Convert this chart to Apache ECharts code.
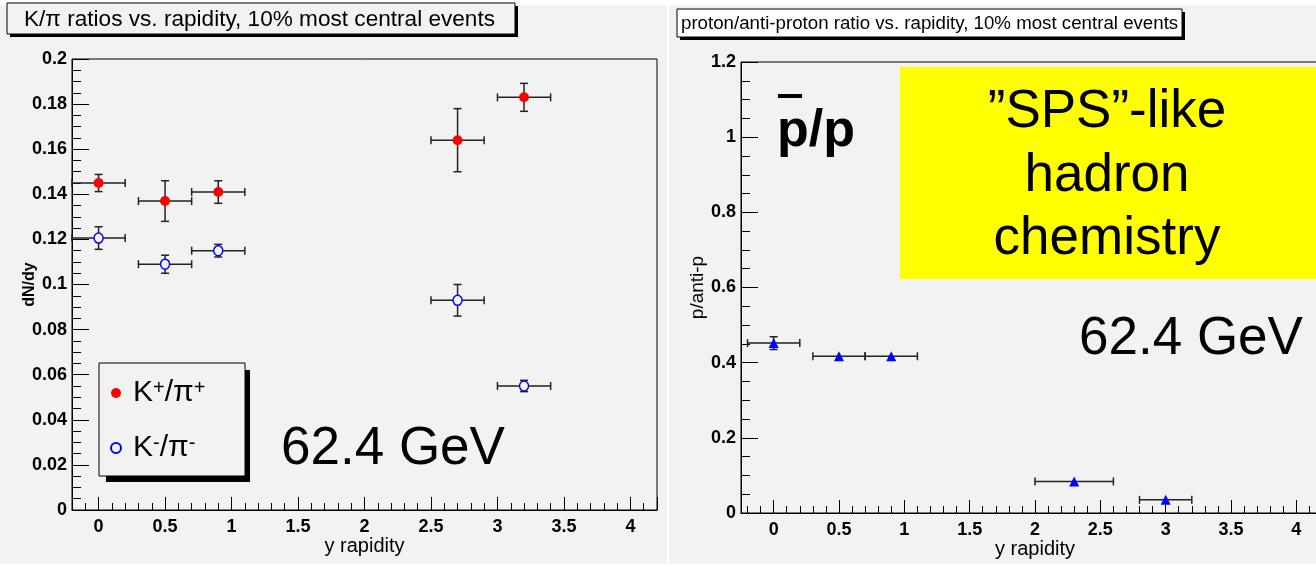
<!DOCTYPE html>
<html><head><meta charset="utf-8">
<script src="https://cdn.jsdelivr.net/npm/echarts@6/dist/echarts.min.js"></script>
<style>
html,body{margin:0;padding:0;background:#fff;}
#wrap{position:relative;width:1316px;height:567px;overflow:hidden;}
.panel{position:absolute;background:#f2f2f2;}
#c{position:absolute;left:0;top:0;width:1316px;height:567px;}
</style>
</head><body>
<div id="wrap">
<div class="panel" style="left:0;top:5px;width:667px;height:559px;"></div>
<div class="panel" style="left:669px;top:5px;width:647px;height:559px;"></div>
<div id="c"></div>
</div>
<script>
// ---- Left panel: K/pi ratios ----
const kpX      = [0, 0.5, 0.9, 2.7, 3.2];
const kpXErr   = [0.2, 0.2, 0.2, 0.2, 0.2];
const kPlusY   = [0.145, 0.137, 0.141, 0.164, 0.183];
const kPlusErr = [0.0038, 0.009, 0.005, 0.014, 0.0062];
const kMinusY  = [0.1206, 0.109, 0.115, 0.093, 0.055];
const kMinusErr= [0.005, 0.004, 0.0028, 0.007, 0.0025];
// ---- Right panel: pbar/p ratio ----
const ppX      = [0, 0.5, 0.9, 2.3, 3.0];
const ppXErr   = [0.2, 0.2, 0.2, 0.3, 0.2];
const ppY      = [0.452, 0.417, 0.417, 0.084, 0.035];
const ppYErr   = [0.017, 0, 0, 0, 0];
// ---- Texts ----
const leftTitle  = 'K/π ratios vs. rapidity, 10% most central events';
const rightTitle = 'proton/anti-proton ratio vs. rapidity, 10% most central events';
const legendNames = ['K+/π+', 'K-/π-'];
const energyLabel = '62.4 GeV';
const yellowLines = ['”SPS”-like', 'hadron', 'chemistry'];

const FONT = 'Liberation Sans, Arial, sans-serif';

function zip4(x, y, xe, ye) { return x.map((v, i) => [v, y[i], xe[i], ye[i]]); }
function zip2(x, y) { return x.map((v, i) => [v, y[i]]); }

function errRender(params, api) {
  const x = api.value(0), y = api.value(1), xe = api.value(2), ye = api.value(3);
  const st = { stroke: '#222', lineWidth: 1.5 };
  const cap = 4;
  const ch = [];
  if (xe > 0) {
    const L = api.coord([x - xe, y]), R = api.coord([x + xe, y]);
    ch.push({ type: 'line', shape: { x1: L[0], y1: L[1], x2: R[0], y2: R[1] }, style: st });
    ch.push({ type: 'line', shape: { x1: L[0], y1: L[1] - cap, x2: L[0], y2: L[1] + cap }, style: st });
    ch.push({ type: 'line', shape: { x1: R[0], y1: R[1] - cap, x2: R[0], y2: R[1] + cap }, style: st });
  }
  if (ye > 0) {
    const T = api.coord([x, y + ye]), B = api.coord([x, y - ye]);
    ch.push({ type: 'line', shape: { x1: T[0], y1: T[1], x2: B[0], y2: B[1] }, style: st });
    ch.push({ type: 'line', shape: { x1: T[0] - cap, y1: T[1], x2: T[0] + cap, y2: T[1] }, style: st });
    ch.push({ type: 'line', shape: { x1: B[0] - cap, y1: B[1], x2: B[0] + cap, y2: B[1] }, style: st });
  }
  return { type: 'group', children: ch };
}

function halfFmt(v) {
  const r = Math.round(v * 2);
  if (Math.abs(v * 2 - r) > 1e-6) return '';
  return String(+v.toFixed(2));
}

const labelStyle = { fontFamily: FONT, fontSize: 18, fontWeight: 'bold', color: '#000' };
const axLine = { show: true, onZero: false, lineStyle: { color: '#000', width: 1 } };

function majorX(grid, min, max) {
  return {
    type: 'value', gridIndex: grid, min: min, max: max, minInterval: 0.5, maxInterval: 0.5, splitNumber: 9,
    position: 'bottom',
    axisLine: axLine, splitLine: { show: false },
    axisTick: { show: true, inside: true, length: 13, lineStyle: { color: '#000', width: 1 } },
    axisLabel: Object.assign({ margin: 8, formatter: halfFmt, showMinLabel: true, showMaxLabel: true }, labelStyle),
    name: 'y rapidity', nameLocation: 'middle', nameGap: 26, nameMoveOverlap: false,
    nameTextStyle: { fontFamily: FONT, fontSize: 20, color: '#000' }
  };
}
function minorX(grid, min, max) {
  return {
    type: 'value', gridIndex: grid, min: min, max: max, minInterval: 0.1, maxInterval: 0.1, splitNumber: 44,
    position: 'bottom',
    axisLine: { show: false, onZero: false }, splitLine: { show: false }, axisLabel: { show: false },
    axisTick: { show: true, inside: true, length: 7, lineStyle: { color: '#000', width: 1 } }
  };
}
function yAx(grid, max, interval, name, nameGap, nameBold, nameSize) {
  return {
    type: 'value', gridIndex: grid, min: 0, max: max, interval: interval,
    axisLine: axLine, splitLine: { show: false },
    axisTick: { show: true, inside: true, length: 17, lineStyle: { color: '#000', width: 1 } },
    minorTick: { show: true, splitNumber: 4, length: 9, lineStyle: { color: '#000', width: 1 } },
    minorSplitLine: { show: false },
    axisLabel: Object.assign({ margin: 5 }, labelStyle),
    name: name, nameLocation: 'middle', nameGap: nameGap, nameMoveOverlap: false,
    nameTextStyle: { fontFamily: FONT, fontSize: nameSize, fontWeight: nameBold ? 'bold' : 'normal', color: '#000' }
  };
}

const chart = echarts.init(document.getElementById('c'), null, { renderer: 'canvas' });
chart.setOption({
  animation: false,
  backgroundColor: 'transparent',
  title: [
    { text: leftTitle, left: 24, top: 8, padding: 0,
      textStyle: { fontFamily: FONT, fontSize: 22.6, fontWeight: 'normal', color: '#000' } },
    { text: rightTitle, left: 681, top: 14, padding: 0,
      textStyle: { fontFamily: FONT, fontSize: 18.7, fontWeight: 'normal', color: '#000' } }
  ],
  grid: [
    { left: 72, top: 59, width: 585, height: 451, show: true, borderColor: '#000', borderWidth: 1,
      backgroundColor: 'transparent', outerBoundsMode: 'none', containLabel: false },
    { left: 741, top: 62, width: 588, height: 451, show: true, borderColor: '#000', borderWidth: 1,
      backgroundColor: 'transparent', outerBoundsMode: 'none', containLabel: false }
  ],
  xAxis: [ majorX(0, -0.2, 4.2), minorX(0, -0.2, 4.2), majorX(1, -0.25, 4.25), minorX(1, -0.25, 4.25) ],
  yAxis: [ yAx(0, 0.2, 0.02, 'dN/dy', 34, true, 16), yAx(1, 1.2, 0.2, 'p/anti-p', 34, false, 19) ],
  legend: {
    data: legendNames, orient: 'vertical', left: 105, top: 373,
    itemWidth: 24, itemHeight: 10, itemGap: 25, selectedMode: false,
    formatter: function (n) { return n === legendNames[0] ? 'K{sup|+}/π{sup|+}' : 'K{sup|-}/π{sup|-}'; },
    textStyle: { fontFamily: FONT, fontSize: 30, color: '#000', lineHeight: 30,
      rich: { sup: { fontFamily: FONT, fontSize: 20, verticalAlign: 'top', lineHeight: 18, color: '#000' } } }
  },
  graphic: [
    // left title box with shadow
    { type: 'rect', z: 1, shape: { x: 10, y: 6, width: 508, height: 31 }, style: { fill: '#000' } },
    { type: 'rect', z: 1, shape: { x: 7, y: 3, width: 508, height: 31 }, style: { fill: '#f2f2f2', stroke: '#000', lineWidth: 1 } },
    // right title box with shadow
    { type: 'rect', z: 1, shape: { x: 680, y: 12, width: 505, height: 28 }, style: { fill: '#000' } },
    { type: 'rect', z: 1, shape: { x: 677, y: 9, width: 505, height: 28 }, style: { fill: '#fff', stroke: '#000', lineWidth: 1 } },
    // legend frame with shadow
    { type: 'rect', z: 1, shape: { x: 106, y: 370, width: 144, height: 112 }, style: { fill: '#000' } },
    { type: 'rect', z: 1, shape: { x: 99, y: 363, width: 146, height: 113 }, style: { fill: '#f2f2f2', stroke: '#000', lineWidth: 1 } },
    // energy labels
    { type: 'text', z: 5, style: { text: energyLabel, x: 281, y: 449, fontFamily: FONT, fontSize: 53, fill: '#000', verticalAlign: 'middle' } },
    { type: 'text', z: 5, style: { text: energyLabel, x: 1079, y: 339, fontFamily: FONT, fontSize: 53, fill: '#000', verticalAlign: 'middle' } },
    // yellow box
    { type: 'rect', z: 1, shape: { x: 900, y: 67, width: 420, height: 212 }, style: { fill: '#ffff00' } },
    { type: 'text', z: 5, style: { text: yellowLines[0], x: 1107, y: 112, align: 'center', verticalAlign: 'middle', fontFamily: FONT, fontSize: 53, fill: '#000' } },
    { type: 'text', z: 5, style: { text: yellowLines[1], x: 1107, y: 176, align: 'center', verticalAlign: 'middle', fontFamily: FONT, fontSize: 53, fill: '#000' } },
    { type: 'text', z: 5, style: { text: yellowLines[2], x: 1107, y: 239, align: 'center', verticalAlign: 'middle', fontFamily: FONT, fontSize: 53, fill: '#000' } },
    // pbar/p label
    { type: 'text', z: 5, style: { text: 'p/p', x: 777, y: 132, verticalAlign: 'middle', fontFamily: FONT, fontSize: 52, fontWeight: 'bold', fill: '#000' } },
    { type: 'rect', z: 5, shape: { x: 778, y: 94, width: 24, height: 4 }, style: { fill: '#000' } }
  ],
  series: [
    { type: 'custom', name: 'errPlus', xAxisIndex: 0, yAxisIndex: 0, z: 2, renderItem: errRender,
      encode: { x: 0, y: 1 }, data: zip4(kpX, kPlusY, kpXErr, kPlusErr), silent: true },
    { type: 'custom', name: 'errMinus', xAxisIndex: 0, yAxisIndex: 0, z: 2, renderItem: errRender,
      encode: { x: 0, y: 1 }, data: zip4(kpX, kMinusY, kpXErr, kMinusErr), silent: true },
    { type: 'custom', name: 'errPP', xAxisIndex: 2, yAxisIndex: 1, z: 2, renderItem: errRender,
      encode: { x: 0, y: 1 }, data: zip4(ppX, ppY, ppXErr, ppYErr), silent: true },
    { type: 'scatter', name: legendNames[0], xAxisIndex: 0, yAxisIndex: 0, z: 3,
      symbol: 'circle', symbolSize: 10, itemStyle: { color: '#ff0000', opacity: 1 },
      data: zip2(kpX, kPlusY) },
    { type: 'scatter', name: legendNames[1], xAxisIndex: 0, yAxisIndex: 0, z: 3,
      symbol: 'circle', symbolSize: [9, 10],
      itemStyle: { color: '#f4f4f4', borderColor: '#0000ff', borderWidth: 1.5, opacity: 1 },
      data: zip2(kpX, kMinusY) },
    { type: 'scatter', name: 'pbar/p', xAxisIndex: 2, yAxisIndex: 1, z: 3,
      symbol: 'triangle', symbolSize: [10, 10], itemStyle: { color: '#0000ff', opacity: 1 },
      data: zip2(ppX, ppY) }
  ]
});
</script>
</body></html>
